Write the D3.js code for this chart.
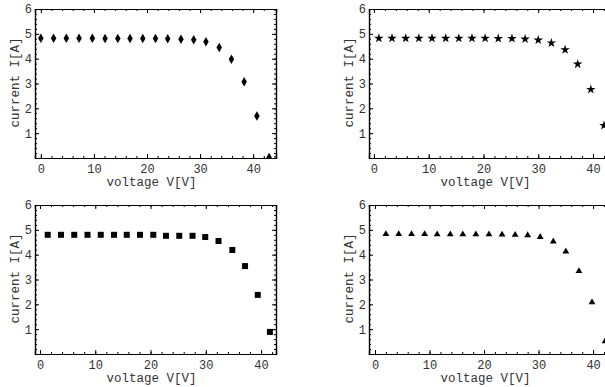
<!DOCTYPE html>
<html>
<head>
<meta charset="utf-8">
<script src="https://cdn.jsdelivr.net/npm/d3@7"></script>
<style>
  body { margin: 0; background: #fff; }
  svg { display: block; }
  text { font-family: "Liberation Mono", "DejaVu Sans Mono", monospace; fill: #333; }
</style>
</head>
<body>
<div class="chart"></div>
<script>
// diamonds, top left
const volt1 = [0, 2.4, 4.8, 7.2, 9.7, 12.1, 14.5, 16.8, 19.2, 21.6, 23.9, 26.4, 28.8, 31.1, 33.6, 35.9, 38.3, 40.7, 43.0];
const amp1 = [4.82, 4.82, 4.82, 4.82, 4.82, 4.81, 4.81, 4.81, 4.81, 4.81, 4.8, 4.78, 4.76, 4.68, 4.45, 3.98, 3.07, 1.69, 0.02];
// stars, top right
const volt2 = [0.9, 3.3, 5.8, 8.2, 10.6, 13.1, 15.5, 17.9, 20.3, 22.7, 25.2, 27.6, 30.0, 32.4, 34.9, 37.2, 39.6, 42.0];
const amp2 = [4.82, 4.82, 4.82, 4.82, 4.82, 4.82, 4.82, 4.82, 4.82, 4.81, 4.81, 4.79, 4.75, 4.63, 4.36, 3.78, 2.76, 1.31];
// squares, bottom left
const volt3 = [1.4, 3.8, 6.2, 8.6, 11.0, 13.4, 15.7, 18.1, 20.5, 22.8, 25.2, 27.6, 29.9, 32.3, 34.8, 37.1, 39.4, 41.6];
const amp3 = [4.80, 4.80, 4.80, 4.80, 4.80, 4.80, 4.80, 4.80, 4.80, 4.76, 4.76, 4.76, 4.71, 4.55, 4.19, 3.54, 2.38, 0.89];
// triangles, bottom right
const volt4 = [2.0, 4.35, 6.7, 9.1, 11.4, 13.8, 16.1, 18.5, 20.9, 23.3, 25.7, 28.0, 30.3, 32.7, 35.0, 37.4, 39.8, 42.2];
const amp4 = [4.83, 4.83, 4.83, 4.83, 4.82, 4.82, 4.82, 4.82, 4.82, 4.81, 4.80, 4.78, 4.71, 4.53, 4.13, 3.34, 2.08, 0.51];

const xTicks = [0, 10, 20, 30, 40];
const yTicks = [1, 2, 3, 4, 5, 6];
const xLabel = "voltage V[V]";
const yLabel = "current I[A]";

const w = 605;
const h = 387;

const svg = d3.select(".chart")
    .append("svg")
    .attr("width", w)
    .attr("height", h);

const panels = [
    {volt: volt1, amp: amp1, sym: d3.symbolDiamond, size: 26, left: 35, top: 9, xdom: [-1.1, 44.3]},
    {volt: volt2, amp: amp2, sym: d3.symbolStar, size: 28, left: 369, top: 9, xdom: [-0.9, 43.1]},
    {volt: volt3, amp: amp3, sym: d3.symbolSquare, size: 36, left: 35, top: 205, xdom: [-0.9, 42.7]},
    {volt: volt4, amp: amp4, sym: d3.symbolTriangle, size: 20, left: 369, top: 205, xdom: [-1.1, 43.1]}
];
const pw = 241;
const ph = 149;

const minorX = d3.range(0, 46, 2);
const minorY = d3.range(1, 30).map(function(d) { return d / 5; });

panels.forEach(function(p, k) {
    const g = svg.append("g")
        .attr("transform", "translate(" + p.left + "," + p.top + ")");

    const x = d3.scaleLinear().domain(p.xdom).range([0, pw]);
    const y = d3.scaleLinear().domain([0, 6]).range([ph, 0]);

    // clip for points
    g.append("clipPath")
        .attr("id", "clip" + k)
        .append("rect")
        .attr("width", pw)
        .attr("height", ph);

    g.append("g")
        .attr("clip-path", "url(#clip" + k + ")")
        .selectAll("path")
        .data(p.volt)
        .enter()
        .append("path")
        .attr("transform", function(d, i) {
            return "translate(" + x(d) + "," + y(p.amp[i]) + ")";
        })
        .attr("d", d3.symbol().type(p.sym).size(p.size))
        .attr("fill", "black");

    // minor ticks, all four sides
    const mx = minorX.filter(function(d) { return d > p.xdom[0] && d < p.xdom[1]; });
    g.append("g").attr("transform", "translate(0," + ph + ")")
        .call(d3.axisBottom(x).tickValues(mx).tickSize(-2).tickFormat(""));
    g.append("g")
        .call(d3.axisTop(x).tickValues(mx).tickSize(-2).tickFormat(""));
    g.append("g")
        .call(d3.axisLeft(y).tickValues(minorY).tickSize(-2).tickFormat(""));
    g.append("g").attr("transform", "translate(" + pw + ",0)")
        .call(d3.axisRight(y).tickValues(minorY).tickSize(-2).tickFormat(""));

    // major ticks
    g.append("g").attr("transform", "translate(0," + ph + ")")
        .call(d3.axisBottom(x).tickValues(xTicks).tickSize(-4).tickPadding(6).tickFormat(d3.format("d")));
    g.append("g")
        .call(d3.axisTop(x).tickValues(xTicks).tickSize(-4).tickFormat(""));
    g.append("g")
        .call(d3.axisLeft(y).tickValues(yTicks).tickSize(-4).tickPadding(3).tickFormat(d3.format("d")));
    g.append("g").attr("transform", "translate(" + pw + ",0)")
        .call(d3.axisRight(y).tickValues(yTicks).tickSize(-4).tickFormat(""));

    g.selectAll(".domain").attr("stroke", "black").attr("stroke-width", 1.2);
    g.selectAll(".tick line").attr("stroke", "black");
    g.selectAll(".tick text")
        .style("font-family", "'Liberation Mono', monospace")
        .style("font-size", "12px")
        .attr("fill", "#333");

    g.append("text")
        .attr("x", pw / 2 - 4)
        .attr("y", ph + 28)
        .attr("text-anchor", "middle")
        .style("font-size", "12.5px")
        .attr("fill", "#444")
        .text(xLabel);

    g.append("text")
        .attr("text-anchor", "middle")
        .style("font-size", "12.5px")
        .attr("fill", "#444")
        .attr("transform", "translate(-16," + (ph / 2 - 1) + ") rotate(-90)")
        .text(yLabel);
});
</script>
</body>
</html>
